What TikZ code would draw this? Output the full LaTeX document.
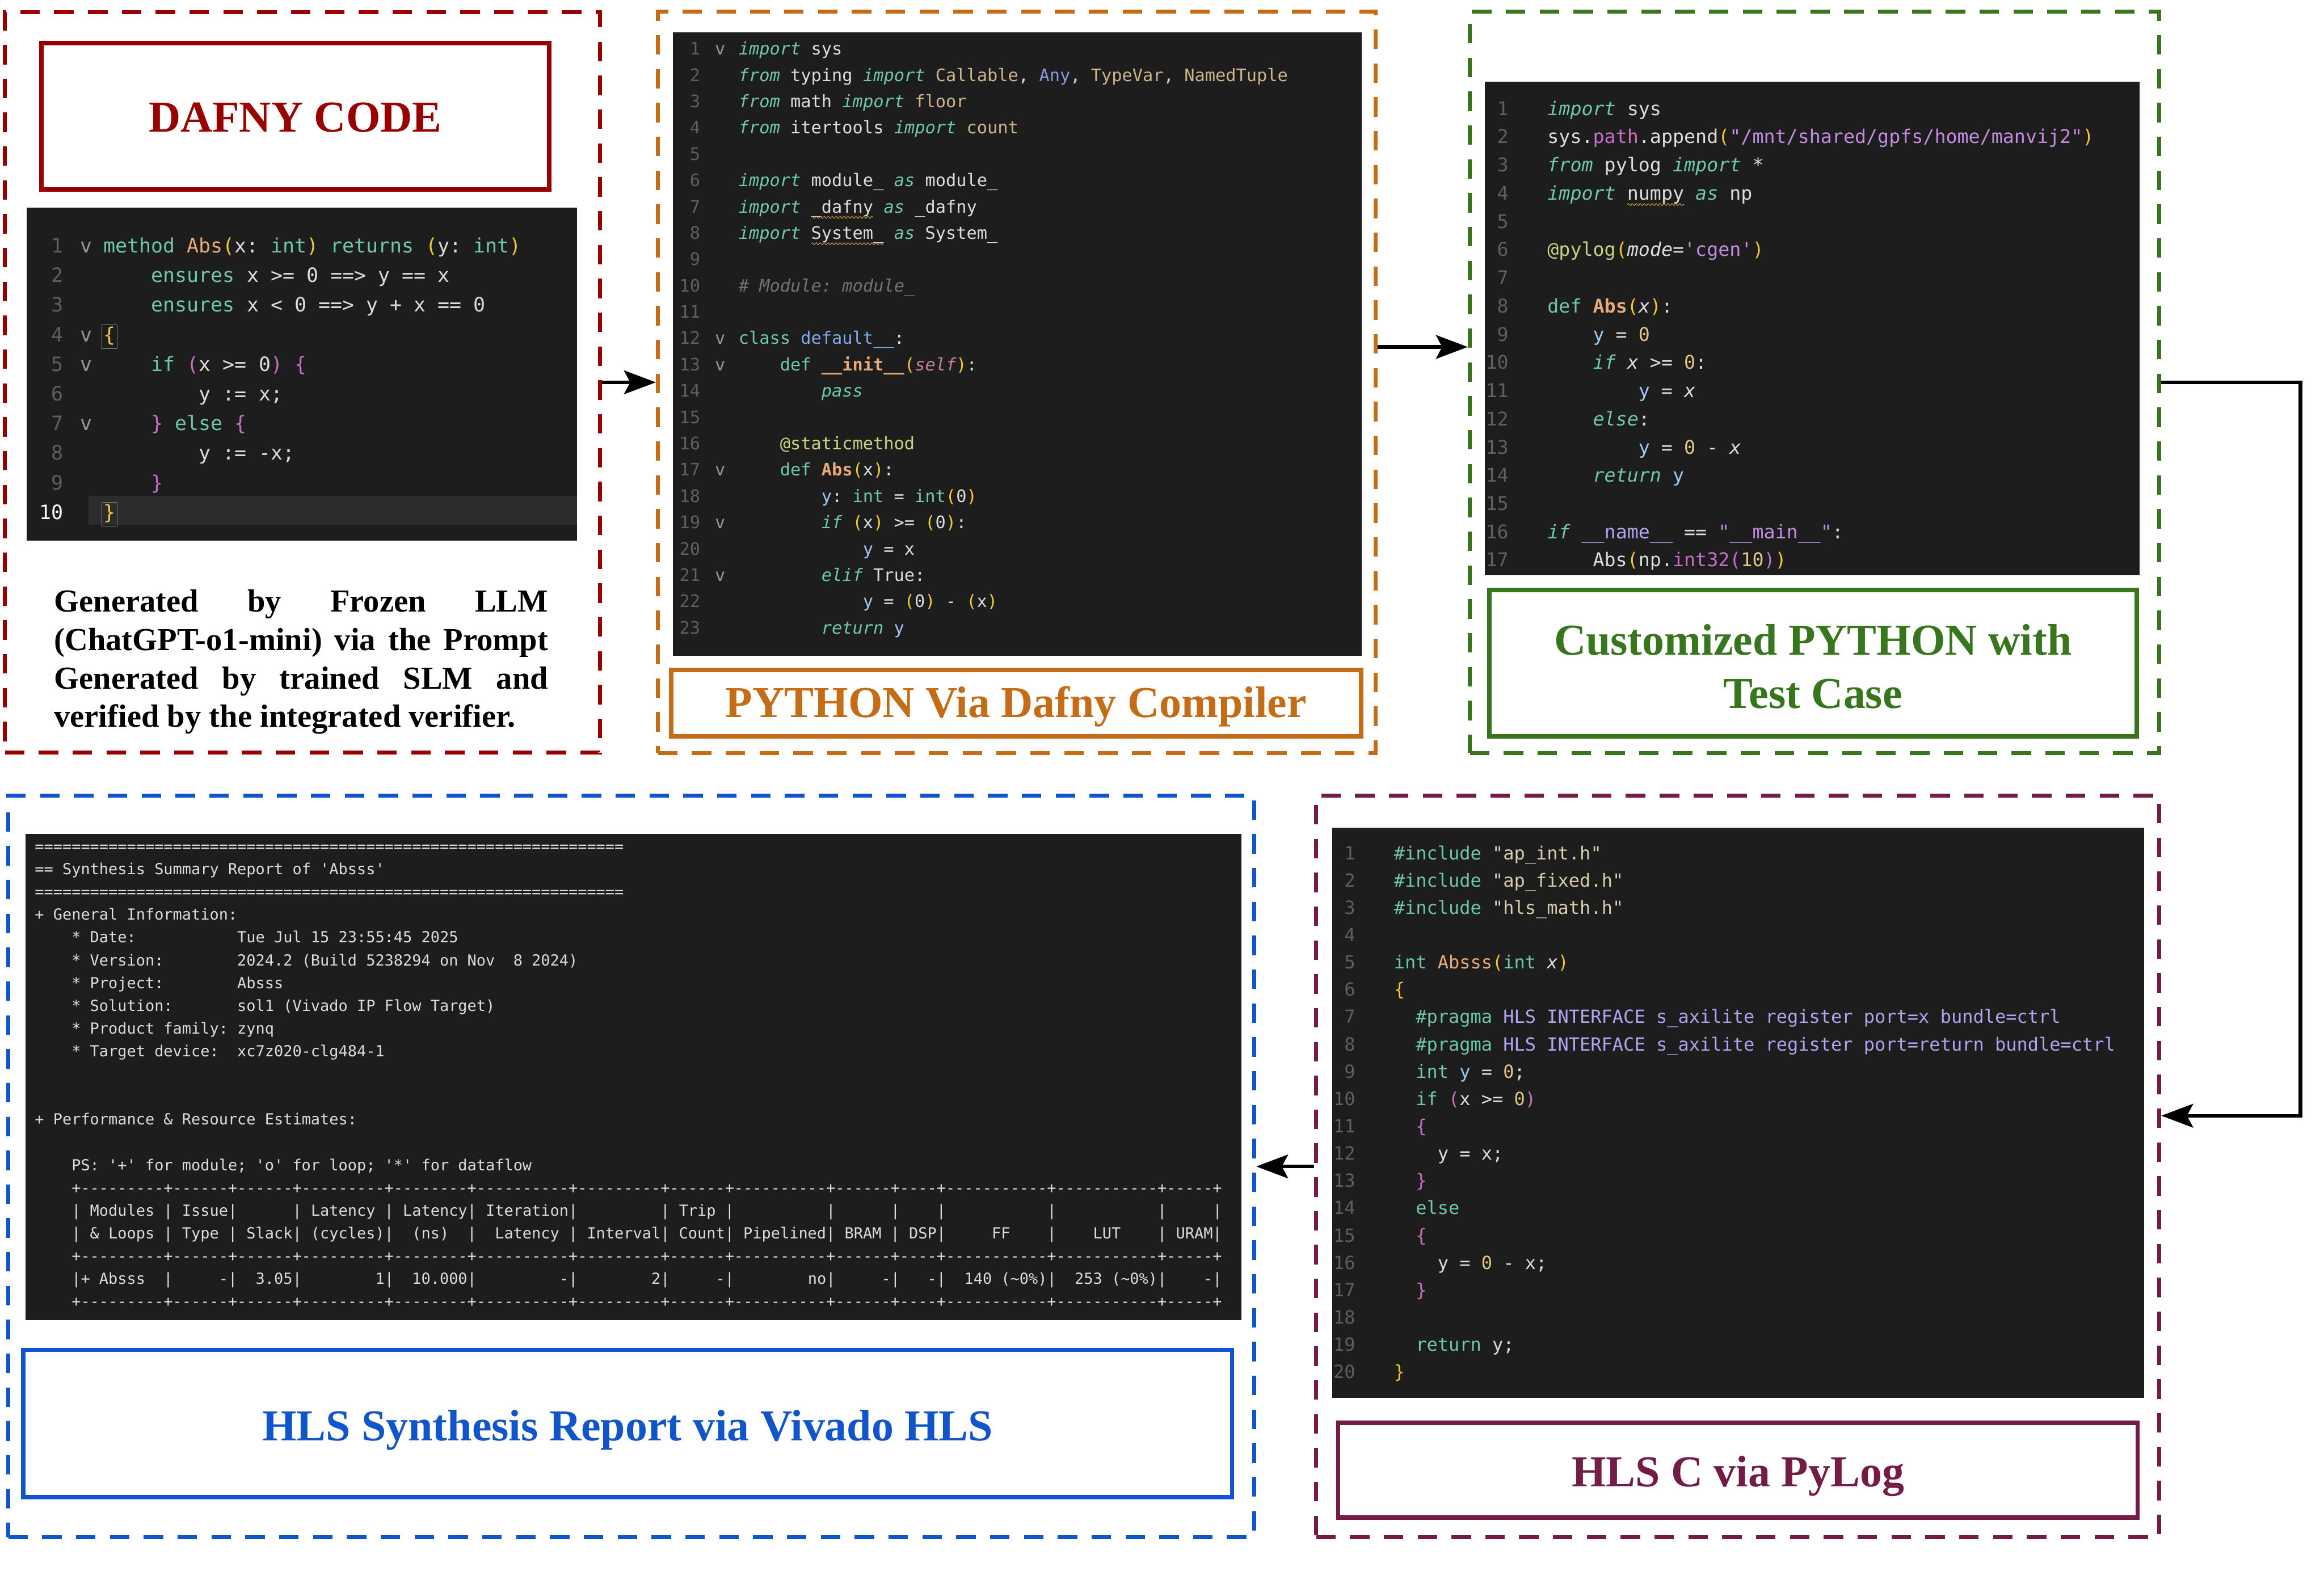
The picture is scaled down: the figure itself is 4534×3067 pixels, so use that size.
\documentclass[tikz,border=0pt]{standalone}
\usepackage{fontspec}
\setmainfont{Liberation Serif}
\newfontfamily\codefont{DejaVu Sans Mono}[Ligatures=TeXOff]
\usetikzlibrary{arrows.meta,calc,decorations.pathmorphing}
\definecolor{cred}{RGB}{153,0,0}
\definecolor{corg}{RGB}{197,108,22}
\definecolor{cgrn}{RGB}{56,118,29}
\definecolor{cmar}{RGB}{116,27,71}
\definecolor{cblu}{RGB}{17,85,204}
\definecolor{cbg}{RGB}{29,29,29}
\definecolor{chl}{RGB}{44,44,44}
\definecolor{cpl}{RGB}{220,220,220}
\definecolor{ckw}{RGB}{110,200,170}
\definecolor{cfn}{RGB}{232,170,120}
\definecolor{cyl}{RGB}{240,200,50}
\definecolor{cpr}{RGB}{200,110,200}
\definecolor{ctn}{RGB}{205,180,140}
\definecolor{cbl}{RGB}{130,170,235}
\definecolor{cany}{RGB}{140,150,225}
\definecolor{ccm}{RGB}{115,115,115}
\definecolor{csl}{RGB}{200,130,150}
\definecolor{cdc}{RGB}{200,210,130}
\definecolor{cst}{RGB}{195,140,225}
\definecolor{cst2}{RGB}{215,205,175}
\definecolor{clv}{RGB}{175,165,240}
\definecolor{cnm}{RGB}{230,200,130}
\definecolor{clb}{RGB}{160,200,240}
\definecolor{cln}{RGB}{95,95,95}
\definecolor{cchv}{RGB}{150,150,150}
\definecolor{csq}{RGB}{215,185,80}
\newcommand\kwd[1]{\textcolor{ckw}{#1}}
\newcommand\kwi[1]{\textcolor{ckw}{\itshape #1}}
\newcommand\fnm[1]{\textcolor{cfn}{#1}}
\newcommand\fnb[1]{\textcolor{cfn}{\bfseries #1}}
\newcommand\ylw[1]{\textcolor{cyl}{#1}}
\newcommand\prp[1]{\textcolor{cpr}{#1}}
\newcommand\tnc[1]{\textcolor{ctn}{#1}}
\newcommand\blu[1]{\textcolor{cbl}{#1}}
\newcommand\anyc[1]{\textcolor{cany}{#1}}
\newcommand\cmt[1]{\textcolor{ccm}{\itshape #1}}
\newcommand\slf[1]{\textcolor{csl}{\itshape #1}}
\newcommand\dcr[1]{\textcolor{cdc}{#1}}
\newcommand\strc[1]{\textcolor{cst}{#1}}
\newcommand\strb[1]{\textcolor{cst2}{#1}}
\newcommand\lav[1]{\textcolor{clv}{#1}}
\newcommand\nmc[1]{\textcolor{cnm}{#1}}
\newcommand\lbl[1]{\textcolor{clb}{#1}}
\newcommand\cdl[4]{%
  \node[lnst,anchor=base east] (#1n) at (\zzlx,{\zzy+(#2-1)*\zzls}) {#2};
  \node[codetxt,anchor=base west] (#1) at ({\zzx+#3*\zzw},{\zzy+(#2-1)*\zzls}) {#4};}
\newcommand\chv[2]{\node[codetxt,text=cchv,anchor=base] (#1) at (\zzvx,{\zzy+(#2-1)*\zzls}) {v};}
\newcommand\rpl[4]{\node[codetxt,anchor=base west] (#1) at ({\zzx+#3*\zzw},{\zzy+(#2-1)*\zzls}) {#4};}
\newcommand\sqg[3]{\draw[squig] ($(#1.base west)+({#2*\zzw},9)$) -- ($(#1.base west)+({#3*\zzw},9)$);}
\tikzset{
  panel/.style={draw,line width=0.08cm,dash pattern=on 0.38cm off 0.28cm,inner sep=0},
  tbox/.style={draw,line width=0.085cm,inner sep=0},
  ttxt/.style={inner sep=0,anchor=base,font=\bfseries\fontsize{24.5}{30}\selectfont},
  dtxt/.style={inner sep=0,anchor=base west,font=\bfseries\fontsize{17.8}{21}\selectfont},
  cbox/.style={fill=cbg,inner sep=0,draw=none},
  codetxt/.style={inner sep=0,outer sep=0,text=cpl,font=\codefont\fontsize{\zzfs}{\zzfs}\selectfont\frenchspacing},
  lnst/.style={codetxt,text=cln},
  squig/.style={draw=csq,line width=0.01cm,decorate,decoration={snake,amplitude=0.6pt,segment length=2.2pt}},
  arr/.style={line width=0.07cm,-{Stealth[length=0.62cm,width=0.46cm,inset=0.12cm]}},
}
\begin{document}
\begin{tikzpicture}[x=0.01cm,y=-0.01cm]
\useasboundingbox (0,0) rectangle (4534,3067);
\fill[white] (0,0) rectangle (4534,3067);
% panels
\node[panel,draw=cred,minimum width=11.6cm,minimum height=14.44cm] (p1) at (590,746) {};
\node[panel,draw=corg,minimum width=13.99cm,minimum height=14.46cm] (p2) at (1983.5,746) {};
\node[panel,draw=cgrn,minimum width=13.44cm,minimum height=14.46cm] (p3) at (3540,746) {};
\node[panel,draw=cmar,minimum width=16.44cm,minimum height=14.46cm] (p4) at (3390,2276) {};
\node[panel,draw=cblu,minimum width=24.29cm,minimum height=14.46cm] (p5) at (1231.5,2276) {};
% title boxes
\node[tbox,draw=cred,minimum width=9.9cm,minimum height=2.86cm] (t1) at (576,227) {};
\node[ttxt,text=cred] (t1t) at (576,257) {DAFNY CODE};
\node[tbox,draw=corg,minimum width=13.45cm,minimum height=1.3cm] (t2) at (1982.5,1372) {};
\node[ttxt,text=corg] (t2t) at (1982.5,1400) {PYTHON Via Dafny Compiler};
\node[tbox,draw=cgrn,minimum width=12.62cm,minimum height=2.86cm] (t3) at (3537,1294) {};
\node[ttxt,text=cgrn] (t3t) at (3537,1278) {Customized PYTHON with};
\node[ttxt,text=cgrn] (t3u) at (3537,1382) {Test Case};
\node[tbox,draw=cmar,minimum width=15.59cm,minimum height=1.85cm] (t4) at (3390.5,2868.5) {};
\node[ttxt,text=cmar] (t4t) at (3390.5,2901) {HLS C via PyLog};
\node[tbox,draw=cblu,minimum width=23.57cm,minimum height=2.87cm] (t5) at (1224.5,2777.5) {};
\node[ttxt,text=cblu] (t5t) at (1224.5,2811) {HLS Synthesis Report via Vivado HLS};
% description
\node[dtxt] (g1) at (105,1194) {\makebox[274pt][s]{Generated by Frozen LLM}};
\node[dtxt] (g2) at (105,1269) {\makebox[274pt][s]{(ChatGPT-o1-mini) via the Prompt}};
\node[dtxt] (g3) at (105,1344) {\makebox[274pt][s]{Generated by trained SLM and}};
\node[dtxt] (g4) at (105,1419) {verified by the integrated verifier.};
% code backgrounds
\node[cbox,minimum width=10.73cm,minimum height=6.5cm] (c1) at (588.5,730) {};
\node[cbox,minimum width=13.43cm,minimum height=12.15cm] (c2) at (1984.5,671.5) {};
\node[cbox,minimum width=12.77cm,minimum height=9.62cm] (c3) at (3535.5,641) {};
\node[cbox,minimum width=15.84cm,minimum height=11.12cm] (c4) at (3391,2171) {};
\node[cbox,minimum width=23.71cm,minimum height=9.48cm] (c5) at (1235.5,2102) {};
% ---------------- Dafny code
\node[fill=chl,inner sep=0,minimum width=9.52cm,minimum height=0.56cm] (d10hl) at (649,996) {};
\def\zzfs{11.0}\def\zzx{202}\def\zzy{493}\def\zzw{23.3}\def\zzls{57.8}\def\zzlx{123}\def\zzvx{168}
\cdl{d1}{1}{0}{\kwd{method} \fnm{Abs}\ylw{(}x: \kwd{int}\ylw{)} \kwd{returns} \ylw{(}y: \kwd{int}\ylw{)}}
\cdl{d2}{2}{4}{\kwd{ensures} x >= 0 ==> y == x}
\cdl{d3}{3}{4}{\kwd{ensures} x < 0 ==> y + x == 0}
\cdl{d4}{4}{0}{\ylw{\{}}
\cdl{d5}{5}{4}{\kwd{if} \prp{(}x >= 0\prp{)} \prp{\{}}
\cdl{d6}{6}{8}{y := x;}
\cdl{d7}{7}{4}{\prp{\}} \kwd{else} \prp{\{}}
\cdl{d8}{8}{8}{y := -x;}
\cdl{d9}{9}{4}{\prp{\}}}
\node[lnst,text=white,anchor=base east] (d10n) at (\zzlx,{\zzy+9*\zzls}) {10};
\node[codetxt,anchor=base west] (d10) at (\zzx,{\zzy+9*\zzls}) {\ylw{\}}};
\chv{d1v}{1}\chv{d4v}{4}\chv{d5v}{5}\chv{d7v}{7}
\draw[line width=0.012cm,draw=gray] ([xshift=-1pt,yshift=-2pt]d4.south west) rectangle ([xshift=1pt,yshift=1pt]d4.north east);
\draw[line width=0.012cm,draw=gray] ([xshift=-1pt,yshift=-2pt]d10.south west) rectangle ([xshift=1pt,yshift=1pt]d10.north east);
% ---------------- Python via Dafny
\def\zzfs{9.55}\def\zzx{1441}\def\zzy{107}\def\zzw{20.2}\def\zzls{51.35}\def\zzlx{1366}\def\zzvx{1405}
\cdl{q1}{1}{0}{\kwi{import} sys}
\cdl{q2}{2}{0}{\kwi{from} typing \kwi{import} \tnc{Callable}, \anyc{Any}, \tnc{TypeVar}, \tnc{NamedTuple}}
\cdl{q3}{3}{0}{\kwi{from} math \kwi{import} \tnc{floor}}
\cdl{q4}{4}{0}{\kwi{from} itertools \kwi{import} \tnc{count}}
\cdl{q5}{5}{0}{}
\cdl{q6}{6}{0}{\kwi{import} module\_ \kwi{as} module\_}
\cdl{q7}{7}{0}{\kwi{import} \_dafny \kwi{as} \_dafny}
\cdl{q8}{8}{0}{\kwi{import} System\_ \kwi{as} System\_}
\cdl{q9}{9}{0}{}
\cdl{q10}{10}{0}{\cmt{\# Module: module\_}}
\cdl{q11}{11}{0}{}
\cdl{q12}{12}{0}{\kwd{class} \blu{default\_\_}:}
\cdl{q13}{13}{4}{\kwd{def} \fnb{\_\_init\_\_}\ylw{(}\slf{self}\ylw{)}:}
\cdl{q14}{14}{8}{\kwi{pass}}
\cdl{q15}{15}{0}{}
\cdl{q16}{16}{4}{\dcr{@staticmethod}}
\cdl{q17}{17}{4}{\kwd{def} \fnb{Abs}\ylw{(}x\ylw{)}:}
\cdl{q18}{18}{8}{\lbl{y}: \kwd{int} = \kwd{int}\ylw{(}0\ylw{)}}
\cdl{q19}{19}{8}{\kwi{if} \ylw{(}x\ylw{)} >= \ylw{(}0\ylw{)}:}
\cdl{q20}{20}{12}{\lbl{y} = x}
\cdl{q21}{21}{8}{\kwi{elif} True:}
\cdl{q22}{22}{12}{\lbl{y} = \ylw{(}0\ylw{)} - \ylw{(}x\ylw{)}}
\cdl{q23}{23}{8}{\kwi{return} \lbl{y}}
\chv{q1v}{1}\chv{q12v}{12}\chv{q13v}{13}\chv{q17v}{17}\chv{q19v}{19}\chv{q21v}{21}
\sqg{q7}{7}{13}
\sqg{q8}{7}{14}
% ---------------- Customized Python
\def\zzfs{10.49}\def\zzx{3019}\def\zzy{225}\def\zzw{22.2}\def\zzls{55.05}\def\zzlx{2943}
\cdl{s1}{1}{0}{\kwi{import} sys}
\cdl{s2}{2}{0}{sys.\prp{path}.append\ylw{(}\strc{"/mnt/shared/gpfs/home/manvij2"}\ylw{)}}
\cdl{s3}{3}{0}{\kwi{from} pylog \kwi{import} *}
\cdl{s4}{4}{0}{\kwi{import} numpy \kwi{as} np}
\cdl{s5}{5}{0}{}
\cdl{s6}{6}{0}{\dcr{@pylog}\ylw{(}{\itshape mode}=\strc{'cgen'}\ylw{)}}
\cdl{s7}{7}{0}{}
\cdl{s8}{8}{0}{\kwd{def} \fnb{Abs}\ylw{(}{\itshape x}\ylw{)}:}
\cdl{s9}{9}{4}{\lbl{y} = \nmc{0}}
\cdl{s10}{10}{4}{\kwi{if} {\itshape x} >= \nmc{0}:}
\cdl{s11}{11}{8}{\lbl{y} = {\itshape x}}
\cdl{s12}{12}{4}{\kwi{else}:}
\cdl{s13}{13}{8}{\lbl{y} = \nmc{0} - {\itshape x}}
\cdl{s14}{14}{4}{\kwi{return} \lbl{y}}
\cdl{s15}{15}{0}{}
\cdl{s16}{16}{0}{\kwi{if} \lav{\_\_name\_\_} == \strc{"\_\_main\_\_"}:}
\cdl{s17}{17}{4}{Abs\ylw{(}np.\prp{int32}\prp{(}\nmc{10}\prp{)}\ylw{)}}
\sqg{s4}{7}{12}
% ---------------- HLS C
\def\zzfs{10.07}\def\zzx{2719.5}\def\zzy{1677}\def\zzw{21.3}\def\zzls{53.3}\def\zzlx{2644}
\cdl{h1}{1}{0}{\kwd{\#include} \strb{"ap\_int.h"}}
\cdl{h2}{2}{0}{\kwd{\#include} \strb{"ap\_fixed.h"}}
\cdl{h3}{3}{0}{\kwd{\#include} \strb{"hls\_math.h"}}
\cdl{h4}{4}{0}{}
\cdl{h5}{5}{0}{\kwd{int} \fnm{Absss}\ylw{(}\kwd{int} {\itshape x}\ylw{)}}
\cdl{h6}{6}{0}{\ylw{\{}}
\cdl{h7}{7}{2}{\kwd{\#pragma} \lav{HLS INTERFACE s\_axilite register port=x bundle=ctrl}}
\cdl{h8}{8}{2}{\kwd{\#pragma} \lav{HLS INTERFACE s\_axilite register port=return bundle=ctrl}}
\cdl{h9}{9}{2}{\kwd{int} \lbl{y} = \nmc{0};}
\cdl{h10}{10}{2}{\kwd{if} \prp{(}x >= \nmc{0}\prp{)}}
\cdl{h11}{11}{2}{\prp{\{}}
\cdl{h12}{12}{4}{y = x;}
\cdl{h13}{13}{2}{\prp{\}}}
\cdl{h14}{14}{2}{\kwd{else}}
\cdl{h15}{15}{2}{\prp{\{}}
\cdl{h16}{16}{4}{y = \nmc{0} - x;}
\cdl{h17}{17}{2}{\prp{\}}}
\cdl{h18}{18}{0}{}
\cdl{h19}{19}{2}{\kwd{return} y;}
\cdl{h20}{20}{0}{\ylw{\}}}
% ---------------- Synthesis report
\def\zzfs{8.48}\def\zzx{68}\def\zzy{1662}\def\zzw{17.95}\def\zzls{44.4}
\rpl{r1}{1}{0}{================================================================}
\rpl{r2}{2}{0}{== Synthesis Summary Report of 'Absss'}
\rpl{r3}{3}{0}{================================================================}
\rpl{r4}{4}{0}{+ General Information:}
\rpl{r5}{5}{4}{* Date:~~~~~~~~~~~Tue Jul 15 23:55:45 2025}
\rpl{r6}{6}{4}{* Version:~~~~~~~~2024.2 (Build 5238294 on Nov~~8 2024)}
\rpl{r7}{7}{4}{* Project:~~~~~~~~Absss}
\rpl{r8}{8}{4}{* Solution:~~~~~~~sol1 (Vivado IP Flow Target)}
\rpl{r9}{9}{4}{* Product family: zynq}
\rpl{r10}{10}{4}{* Target device:~~xc7z020-clg484-1}
\rpl{r13}{13}{0}{+ Performance \& Resource Estimates:}
\rpl{r15}{15}{4}{PS: '+' for module; 'o' for loop; '*' for dataflow}
\rpl{r16}{16}{4}{+---------+------+------+---------+--------+----------+---------+------+----------+------+----+-----------+-----------+-----+}
\rpl{r17}{17}{4}{|~Modules~|~Issue|~~~~~~|~Latency~|~Latency|~Iteration|~~~~~~~~~|~Trip~|~~~~~~~~~~|~~~~~~|~~~~|~~~~~~~~~~~|~~~~~~~~~~~|~~~~~|}
\rpl{r18}{18}{4}{|~\&~Loops~|~Type~|~Slack|~(cycles)|~~(ns)~~|~~Latency~|~Interval|~Count|~Pipelined|~BRAM~|~DSP|~~~~~FF~~~~|~~~~LUT~~~~|~URAM|}
\rpl{r19}{19}{4}{+---------+------+------+---------+--------+----------+---------+------+----------+------+----+-----------+-----------+-----+}
\rpl{r20}{20}{4}{|+~Absss~~|~~~~~-|~~3.05|~~~~~~~~1|~~10.000|~~~~~~~~~-|~~~~~~~~2|~~~~~-|~~~~~~~~no|~~~~~-|~~~-|~~140~(\textasciitilde0\%)|~~253~(\textasciitilde0\%)|~~~~-|}
\rpl{r21}{21}{4}{+---------+------+------+---------+--------+----------+---------+------+----------+------+----+-----------+-----------+-----+}
% ---------------- connectors
\draw[arr] (p1.east) -- (p2.west);
\coordinate (a2s) at ($(p2.east)+(0,-69)$);
\draw[arr] (a2s) -- (a2s -| p3.west);
\coordinate (a3b) at (4488,2177);
\draw[arr] (p3.east) -| (a3b) -- (a3b -| p4.east);
\draw[arr] (p4.west) -- (p5.east);
\end{tikzpicture}
\end{document}
